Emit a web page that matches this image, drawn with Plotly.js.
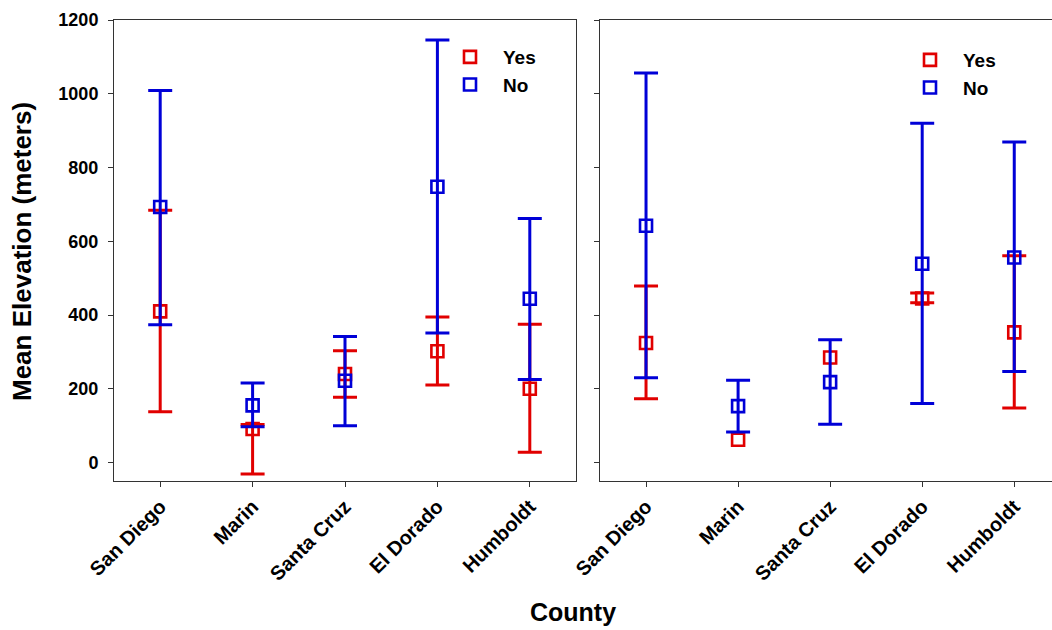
<!DOCTYPE html>
<html>
<head>
<meta charset="utf-8">
<script src="https://cdn.plot.ly/plotly-3.0.1.min.js"></script>
<style>html,body{margin:0;padding:0;background:#fff}#chart{width:1052px;height:630px}</style>
</head>
<body>
<div id="chart"></div>
<script>
// Data
const counties = ["San Diego", "Marin", "Santa Cruz", "El Dorado", "Humboldt"];
const yTicks = [0, 200, 400, 600, 800, 1000, 1200];

// Left panel
const leftYesMean  = [410, 91, 240, 302, 200];
const leftYesUpper = [684, 103, 303, 395, 375];
const leftYesLower = [138, -31, 177, 210, 28];
const leftNoMean   = [693, 155, 222, 748, 444];
const leftNoUpper  = [1009, 216, 342, 1146, 662];
const leftNoLower  = [374, 97, 100, 351, 225];

// Right panel (null = no visible error bar)
const rightYesMean  = [324, 62, 285, 445, 353];
const rightYesUpper = [479, null, null, 460, 561];
const rightYesLower = [173, null, null, 433, 148];
const rightNoMean   = [642, 153, 218, 539, 556];
const rightNoUpper  = [1056, 223, 333, 920, 869];
const rightNoLower  = [230, 83, 104, 160, 247];

const RED = "rgb(225,0,0)";
const BLUE = "rgb(0,0,215)";

function diff(a, b) { return a.map((v, i) => (v === null || b[i] === null) ? NaN : v - b[i]); }

function trace(name, mean, upper, lower, color, xa, ya, legend) {
  return {
    type: "scatter", mode: "markers", name: name,
    x: counties, y: mean, xaxis: xa, yaxis: ya, legend: legend, showlegend: true,
    marker: {symbol: "square-open", size: 12, color: color, line: {width: 2.6, color: color}},
    error_y: {type: "data", symmetric: false, array: diff(upper, mean), arrayminus: diff(mean, lower),
              color: color, thickness: 3, width: 12}
  };
}

const data = [
  trace("Yes", leftYesMean, leftYesUpper, leftYesLower, RED, "x", "y", "legend"),
  trace("No", leftNoMean, leftNoUpper, leftNoLower, BLUE, "x", "y", "legend"),
  trace("Yes", rightYesMean, rightYesUpper, rightYesLower, RED, "x2", "y2", "legend2"),
  trace("No", rightNoMean, rightNoUpper, rightNoLower, BLUE, "x2", "y2", "legend2")
];

const W = 1052, H = 630;
const yDom = [(H - 481) / H, (H - 20) / H];
const FONT = "Liberation Sans, Arial, sans-serif";

const xCommon = {
  type: "category", showline: true, mirror: true, linecolor: "#333", linewidth: 1,
  ticks: "outside", ticklen: 5, tickcolor: "#333", showgrid: false, zeroline: false,
  tickangle: -45, tickfont: {family: FONT, size: 20, color: "#000", weight: "bold"}
};
const yCommon = {
  range: [-50, 1200], tickvals: yTicks, showline: true, mirror: true, linecolor: "#333", linewidth: 1,
  ticks: "outside", ticklen: 5, tickcolor: "#333", showgrid: false, zeroline: false,
  tickfont: {family: FONT, size: 18, color: "#000", weight: "bold"}, ticklabelstandoff: 6
};

const legendFont = {family: FONT, size: 19, color: "#000", weight: "bold"};

const layout = {
  width: W, height: H,
  margin: {l: 0, r: 0, t: 0, b: 0},
  paper_bgcolor: "#fff", plot_bgcolor: "#fff",
  xaxis: Object.assign({}, xCommon, {domain: [114 / W, 576 / W], range: [-0.5, 4.5], anchor: "y"}),
  yaxis: Object.assign({}, yCommon, {domain: yDom, anchor: "x"}),
  xaxis2: Object.assign({}, xCommon, {domain: [600 / W, 1], range: [-0.5, 4.41], anchor: "y2"}),
  yaxis2: Object.assign({}, yCommon, {domain: yDom, anchor: "x2", showticklabels: false}),
  legend: {x: 437 / W, y: (H - 38) / H, xanchor: "left", yanchor: "top", bgcolor: "rgba(0,0,0,0)",
           font: legendFont, itemwidth: 56, tracegroupgap: 0},
  legend2: {x: 897 / W, y: (H - 41) / H, xanchor: "left", yanchor: "top", bgcolor: "rgba(0,0,0,0)",
           font: legendFont, itemwidth: 56, tracegroupgap: 0},
  annotations: [
    {text: "Mean Elevation (meters)", xref: "paper", yref: "paper", x: 22 / W, y: (H - 252) / H,
     textangle: -90, showarrow: false, xanchor: "center", yanchor: "middle",
     font: {family: FONT, size: 26, color: "#000", weight: "bold"}},
    {text: "County", xref: "paper", yref: "paper", x: 573 / W, y: (H - 612) / H,
     showarrow: false, xanchor: "center", yanchor: "middle",
     font: {family: FONT, size: 25, color: "#000", weight: "bold"}}
  ]
};

Plotly.newPlot("chart", data, layout, {displayModeBar: false, staticPlot: true});
</script>
</body>
</html>
